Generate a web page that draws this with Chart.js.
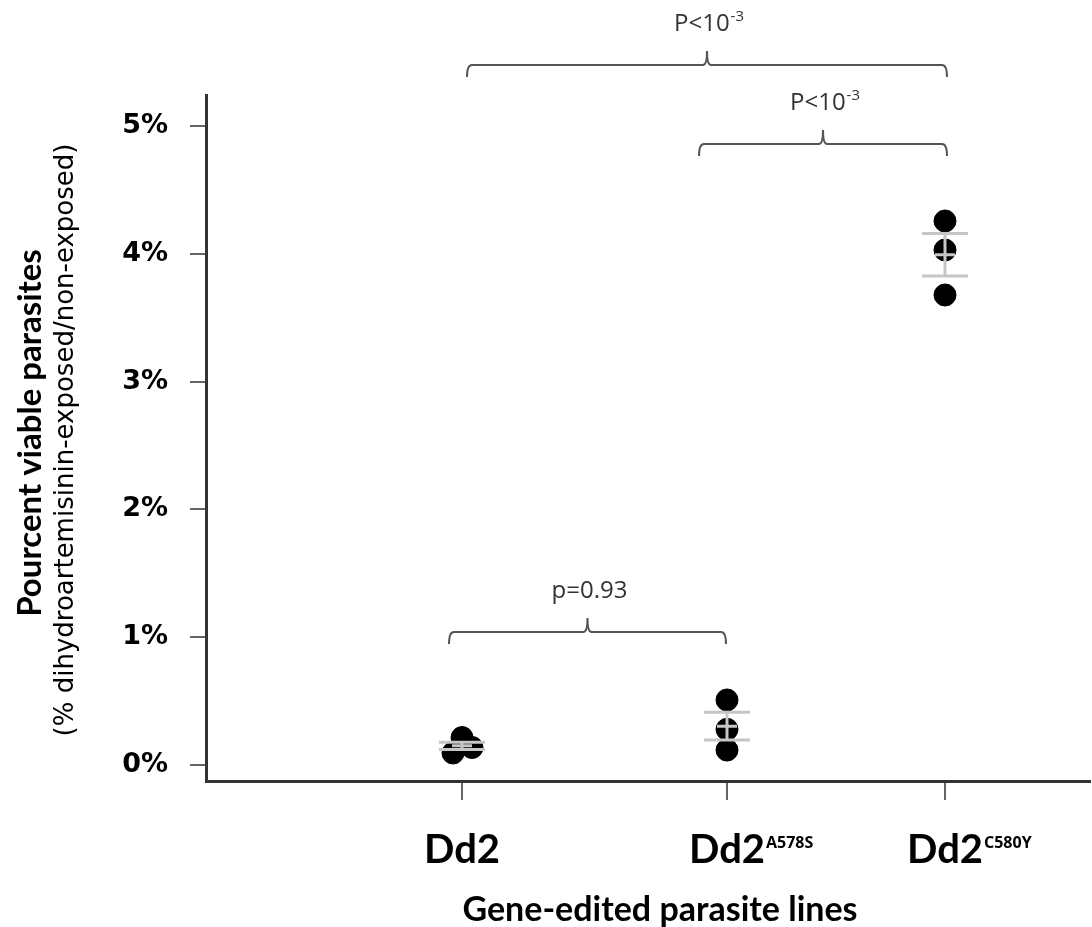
<!DOCTYPE html>
<html>
<head>
<meta charset="utf-8">
<script src="https://cdn.jsdelivr.net/npm/chart.js@4/dist/chart.umd.min.js"></script>
<style>
  body { margin: 0; background: #fff; }
</style>
</head>
<body>
<canvas id="viabilityChart" width="1092" height="927"></canvas>
<script>
// data
const lineNames = ["Dd2", "Dd2", "Dd2"];
const lineSups = ["", "A578S", "C580Y"];
const dd2Values = [0.094, 0.215, 0.137];
const a578sValues = [0.509, 0.279, 0.117];
const c580yValues = [4.257, 4.030, 3.678];
const meanValues = [0.150, 0.304, 3.993];
const semValues = [0.028, 0.108, 0.167];
const yTickValues = [0, 1, 2, 3, 4, 5];

// significance brackets: label and height
const compLabels = ["P<10", "P<10", "p=0.93"];
const compSups = ["-3", "-3", ""];
const compLevels = [5.477, 4.859, 1.041];

// layout of the (unevenly spaced) x axis
const xPos = [2.56, 5.21, 7.39];
const dd2Jitter = [-0.09, 0.0, 0.10];
const bracketStart = [2.61, 4.93, 2.43];
const bracketEnd = [7.41, 7.41, 5.20];

const groups = [dd2Values, a578sValues, c580yValues];
const points = [];
groups.forEach((vals, i) => {
  vals.forEach((v, j) => {
    const dx = i === 0 ? dd2Jitter[j] : 0;
    points.push({ x: xPos[i] + dx, y: v });
  });
});

// text with a raised suffix; base part centred on cx unless centreAll
function drawSup(ctx, base, sup, cx, y, baseFont, supFont, rise, centreAll) {
  ctx.font = baseFont;
  const wb = ctx.measureText(base).width;
  ctx.font = supFont;
  const ws = sup ? ctx.measureText(sup).width + 1 : 0;
  const x0 = centreAll ? cx - (wb + ws) / 2 : cx - wb / 2;
  ctx.textAlign = 'left';
  ctx.textBaseline = 'alphabetic';
  ctx.font = baseFont;
  ctx.fillText(base, x0, y);
  if (sup) {
    ctx.font = supFont;
    ctx.fillText(sup, x0 + wb + 1, y - rise);
  }
}

const annotations = {
  id: 'annotations',
  afterDatasetsDraw(chart) {
    const { ctx, scales: { x, y } } = chart;
    ctx.save();
    ctx.strokeStyle = '#c6c6c6';
    ctx.lineWidth = 3;
    meanValues.forEach((m, i) => {
      const px = x.getPixelForValue(xPos[i]);
      const hi = y.getPixelForValue(m + semValues[i]);
      const lo = y.getPixelForValue(m - semValues[i]);
      const mid = y.getPixelForValue(m);
      ctx.beginPath();
      ctx.moveTo(px - 23, hi); ctx.lineTo(px + 23, hi);
      ctx.moveTo(px - 23, lo); ctx.lineTo(px + 23, lo);
      ctx.moveTo(px, hi); ctx.lineTo(px, lo);
      ctx.moveTo(px - 10, mid); ctx.lineTo(px + 10, mid);
      ctx.stroke();
    });
    ctx.restore();
  },
  afterDraw(chart) {
    const { ctx, scales: { x, y } } = chart;
    ctx.save();

    // brackets
    ctx.strokeStyle = '#555';
    ctx.lineWidth = 2;
    ctx.fillStyle = '#333';
    compLabels.forEach((lab, i) => {
      const x0 = x.getPixelForValue(bracketStart[i]);
      const x1 = x.getPixelForValue(bracketEnd[i]);
      const xm = (x0 + x1) / 2;
      const yy = y.getPixelForValue(compLevels[i]);
      ctx.beginPath();
      ctx.moveTo(x0, yy + 12);
      ctx.quadraticCurveTo(x0, yy, x0 + 5, yy);
      ctx.lineTo(xm - 4, yy);
      ctx.quadraticCurveTo(xm, yy, xm, yy - 14);
      ctx.quadraticCurveTo(xm, yy, xm + 4, yy);
      ctx.lineTo(x1 - 5, yy);
      ctx.quadraticCurveTo(x1, yy, x1, yy + 12);
      ctx.stroke();
      drawSup(ctx, lab, compSups[i], xm + 2, yy - 34,
        '24px "Open Sans"', '15px "Open Sans"', 10, true);
    });

    // category labels
    ctx.fillStyle = '#000';
    lineNames.forEach((name, i) => {
      const px = x.getPixelForValue(xPos[i]);
      drawSup(ctx, name, lineSups[i], px, 863,
        'bold 40px Lato', 'bold 16px "Open Sans"', 15, false);
    });

    // axis titles
    ctx.textAlign = 'center';
    ctx.textBaseline = 'middle';
    ctx.font = 'bold 34px Lato';
    ctx.fillText('Gene-edited parasite lines', 660, 910);

    ctx.save();
    ctx.translate(30, 433);
    ctx.rotate(-Math.PI / 2);
    ctx.font = 'bold 33px Lato';
    ctx.fillText('Pourcent viable parasites', 0, 0);
    ctx.restore();

    ctx.save();
    ctx.translate(66, 440);
    ctx.rotate(-Math.PI / 2);
    ctx.font = '26px "DejaVu Sans"';
    ctx.fillText('(% dihydroartemisinin-exposed/non-exposed)', 0, 0);
    ctx.restore();

    ctx.restore();
  }
};

new Chart(document.getElementById('viabilityChart'), {
  type: 'scatter',
  data: {
    datasets: [{
      label: 'Viable parasites',
      data: points,
      backgroundColor: '#000',
      borderColor: '#000',
      pointRadius: 11,
      pointHoverRadius: 11
    }]
  },
  options: {
    responsive: false,
    animation: false,
    layout: { autoPadding: false, padding: { top: 95, right: 2, left: 0, bottom: 0 } },
    plugins: { legend: { display: false }, tooltip: { enabled: false } },
    scales: {
      x: {
        type: 'linear',
        min: 0,
        max: 8.84,
        afterBuildTicks: s => { s.ticks = xPos.map(v => ({ value: v })); },
        afterFit: s => { s.height = 146; s.paddingLeft = 0; s.paddingRight = 0; },
        ticks: { callback: () => '' },
        grid: { drawOnChartArea: false, tickLength: 19, color: '#666', lineWidth: 2 },
        border: { color: '#333', width: 3 }
      },
      y: {
        min: -0.125,
        max: 5.243,
        afterBuildTicks: s => { s.ticks = yTickValues.map(v => ({ value: v })); },
        afterFit: s => { s.width = 206; },
        ticks: {
          callback: v => v + '%',
          color: '#000',
          padding: 22,
          font: { family: 'DejaVu Sans', weight: 'bold', size: 27 }
        },
        grid: { drawOnChartArea: false, tickLength: 16, color: '#666', lineWidth: 2 },
        border: { color: '#333', width: 3 }
      }
    }
  },
  plugins: [annotations]
});
</script>
</body>
</html>
